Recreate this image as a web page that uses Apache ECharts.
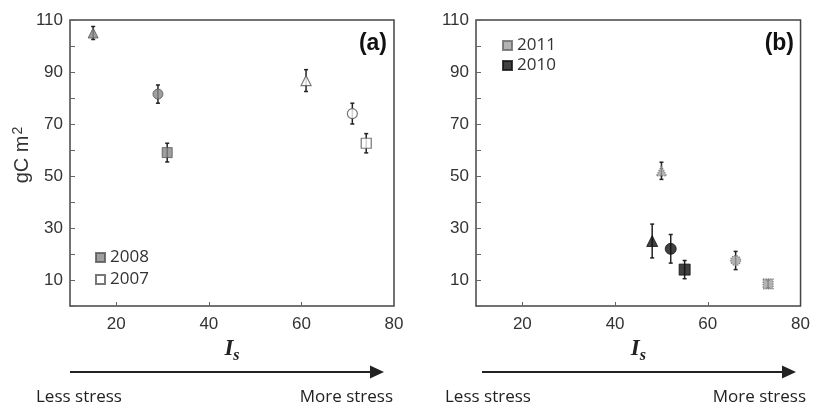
<!DOCTYPE html>
<html><head><meta charset="utf-8">
<script src="https://cdn.jsdelivr.net/npm/echarts@6/dist/echarts.min.js"></script>
<style>html,body{margin:0;padding:0;background:#fff}#c{width:813px;height:406px}</style>
</head><body><div id="c"></div>
<script>
// ---- data ----
const shapes = ['triangle', 'circle', 'rect'];
const x2008 = [15, 29, 31];
const y2008 = [105, 81.5, 59];
const e2008 = [2.5, 3.5, 3.6];
const x2007 = [61, 71, 74];
const y2007 = [86.7, 74, 62.6];
const e2007 = [4.2, 4, 3.7];
const x2011 = [50, 66, 73];
const y2011 = [52, 17.5, 8.5];
const e2011 = [3.3, 3.5, 1.5];
const x2010 = [48, 52, 55];
const y2010 = [25, 22, 14];
const e2010 = [6.5, 5.5, 3.5];
const yTickLabels = [10, 30, 50, 70, 90, 110];
const xTickLabels = [20, 40, 60, 80];

const chart = echarts.init(document.getElementById('c'), null, {renderer: 'canvas'});
const labelFont = {fontFamily: 'Liberation Sans', fontSize: 17, color: '#333'};

function pts(xs, ys) { return xs.map((x, i) => ({value: [x, ys[i]], symbol: shapes[i]})); }
function errData(xs, ys, es) { return xs.map((x, i) => [x, ys[i] - es[i], ys[i] + es[i]]); }

function errSeries(name, idx, data) {
  return {
    type: 'custom', name: name + '_err', xAxisIndex: idx, yAxisIndex: idx, z: 1, silent: true,
    data: data,
    renderItem: function (params, api) {
      const lo = api.coord([api.value(0), api.value(1)]);
      const hi = api.coord([api.value(0), api.value(2)]);
      const c = 2;
      return {
        type: 'group', children: [
          {type: 'line', shape: {x1: lo[0], y1: lo[1], x2: hi[0], y2: hi[1]}, style: {stroke: '#222', lineWidth: 1.5}},
          {type: 'line', shape: {x1: lo[0] - c, y1: lo[1], x2: lo[0] + c, y2: lo[1]}, style: {stroke: '#222', lineWidth: 1.5}},
          {type: 'line', shape: {x1: hi[0] - c, y1: hi[1], x2: hi[0] + c, y2: hi[1]}, style: {stroke: '#222', lineWidth: 1.5}}
        ]
      };
    }
  };
}

function xAxis(idx) {
  return {
    type: 'value', gridIndex: idx, min: 10, max: 80, interval: 10,
    axisLine: {show: false}, splitLine: {show: false},
    axisTick: {show: true, inside: true, length: 4, customValues: [20, 40, 60], lineStyle: {color: '#666'}},
    axisLabel: Object.assign({margin: 10, customValues: xTickLabels}, labelFont),
    name: '{i|I}{s|s}', nameLocation: 'middle', nameGap: 28,
    nameTextStyle: {rich: {
      i: {fontFamily: 'Liberation Serif', fontStyle: 'italic', fontWeight: 'bold', fontSize: 23, color: '#222'},
      s: {fontFamily: 'Liberation Serif', fontStyle: 'italic', fontWeight: 'bold', fontSize: 16, color: '#222', padding: [12, 0, 0, 0]}
    }}
  };
}
function yAxis(idx, withName) {
  const a = {
    type: 'value', gridIndex: idx, min: 0, max: 110, interval: 10,
    axisLine: {show: false}, splitLine: {show: false},
    axisTick: {show: true, inside: true, length: 5, lineStyle: {color: '#666'}},
    axisLabel: Object.assign({margin: 7, customValues: yTickLabels}, labelFont)
  };
  if (withName) {
    a.name = '{b|gC m}{p|2}';
    a.nameLocation = 'middle';
    a.nameGap = 36;
    a.nameTextStyle = {padding: [0, 0, 0, 16], rich: {
      b: {fontFamily: 'Liberation Sans', fontSize: 20, color: '#333'},
      p: {fontFamily: 'Liberation Sans', fontSize: 14, color: '#333', padding: [0, 0, 8, 1]}
    }};
  }
  return a;
}

const gray = {color: '#878787', borderColor: '#555', borderWidth: 1};
const white = {color: '#ffffff', borderColor: '#555', borderWidth: 1.2};
const black = {color: '#111', borderColor: '#111', borderWidth: 1};
const hatched = {color: '#a0a0a0', borderColor: '#666', borderWidth: 1.2, borderType: 'dotted'};

chart.setOption({
  animation: false,
  grid: [
    {left: 70, top: 20, width: 324, height: 286, show: true, borderColor: '#444', borderWidth: 1.5, backgroundColor: 'transparent'},
    {left: 476, top: 20, width: 325, height: 286, show: true, borderColor: '#444', borderWidth: 1.5, backgroundColor: 'transparent'}
  ],
  xAxis: [xAxis(0), xAxis(1)],
  yAxis: [yAxis(0, true), yAxis(1, false)],
  legend: [
    {data: [{name: '2008', icon: 'rect'}, {name: '2007', icon: 'rect'}], orient: 'vertical', left: 90, top: 244,
     itemWidth: 9, itemHeight: 9, itemGap: 5, textStyle: {fontFamily: 'Open Sans', fontSize: 17, color: '#333'}, selectedMode: false},
    {data: [{name: '2011', icon: 'rect'}, {name: '2010', icon: 'rect'}], orient: 'vertical', left: 497, top: 32,
     itemWidth: 9, itemHeight: 9, itemGap: 3, textStyle: {fontFamily: 'Open Sans', fontSize: 17, color: '#333'}, selectedMode: false}
  ],
  series: [
    errSeries('2008', 0, errData(x2008, y2008, e2008)),
    errSeries('2007', 0, errData(x2007, y2007, e2007)),
    errSeries('2011', 1, errData(x2011, y2011, e2011)),
    errSeries('2010', 1, errData(x2010, y2010, e2010)),
    {type: 'scatter', name: '2008', xAxisIndex: 0, yAxisIndex: 0, z: 3, symbolSize: 10, itemStyle: gray, data: pts(x2008, y2008)},
    {type: 'scatter', name: '2007', xAxisIndex: 0, yAxisIndex: 0, z: 3, symbolSize: 10, itemStyle: white, data: pts(x2007, y2007)},
    {type: 'scatter', name: '2011', xAxisIndex: 1, yAxisIndex: 1, z: 3, symbolSize: 10, itemStyle: hatched, data: pts(x2011, y2011)},
    {type: 'scatter', name: '2010', xAxisIndex: 1, yAxisIndex: 1, z: 3, symbolSize: 11, itemStyle: black, data: pts(x2010, y2010)}
  ],
  graphic: [
    {type: 'text', style: {x: 387, y: 44, text: '(a)', font: 'bold 23px "Liberation Sans"', fill: '#111', textAlign: 'right', textVerticalAlign: 'middle'}},
    {type: 'text', style: {x: 794, y: 44, text: '(b)', font: 'bold 23px "Liberation Sans"', fill: '#111', textAlign: 'right', textVerticalAlign: 'middle'}},
    {type: 'line', shape: {x1: 70, y1: 372, x2: 374, y2: 372}, style: {stroke: '#222', lineWidth: 2}},
    {type: 'polygon', shape: {points: [[370, 365.5], [384, 372], [370, 378.5]]}, style: {fill: '#222'}},
    {type: 'line', shape: {x1: 482, y1: 372, x2: 786, y2: 372}, style: {stroke: '#222', lineWidth: 2}},
    {type: 'polygon', shape: {points: [[782, 365.5], [796, 372], [782, 378.5]]}, style: {fill: '#222'}},
    {type: 'text', style: {x: 36, y: 397, text: 'Less stress', font: '17px "Open Sans"', fill: '#222', textAlign: 'left', textVerticalAlign: 'middle'}},
    {type: 'text', style: {x: 393, y: 397, text: 'More stress', font: '17px "Open Sans"', fill: '#222', textAlign: 'right', textVerticalAlign: 'middle'}},
    {type: 'text', style: {x: 445, y: 397, text: 'Less stress', font: '17px "Open Sans"', fill: '#222', textAlign: 'left', textVerticalAlign: 'middle'}},
    {type: 'text', style: {x: 806, y: 397, text: 'More stress', font: '17px "Open Sans"', fill: '#222', textAlign: 'right', textVerticalAlign: 'middle'}}
  ]
});
</script></body></html>
